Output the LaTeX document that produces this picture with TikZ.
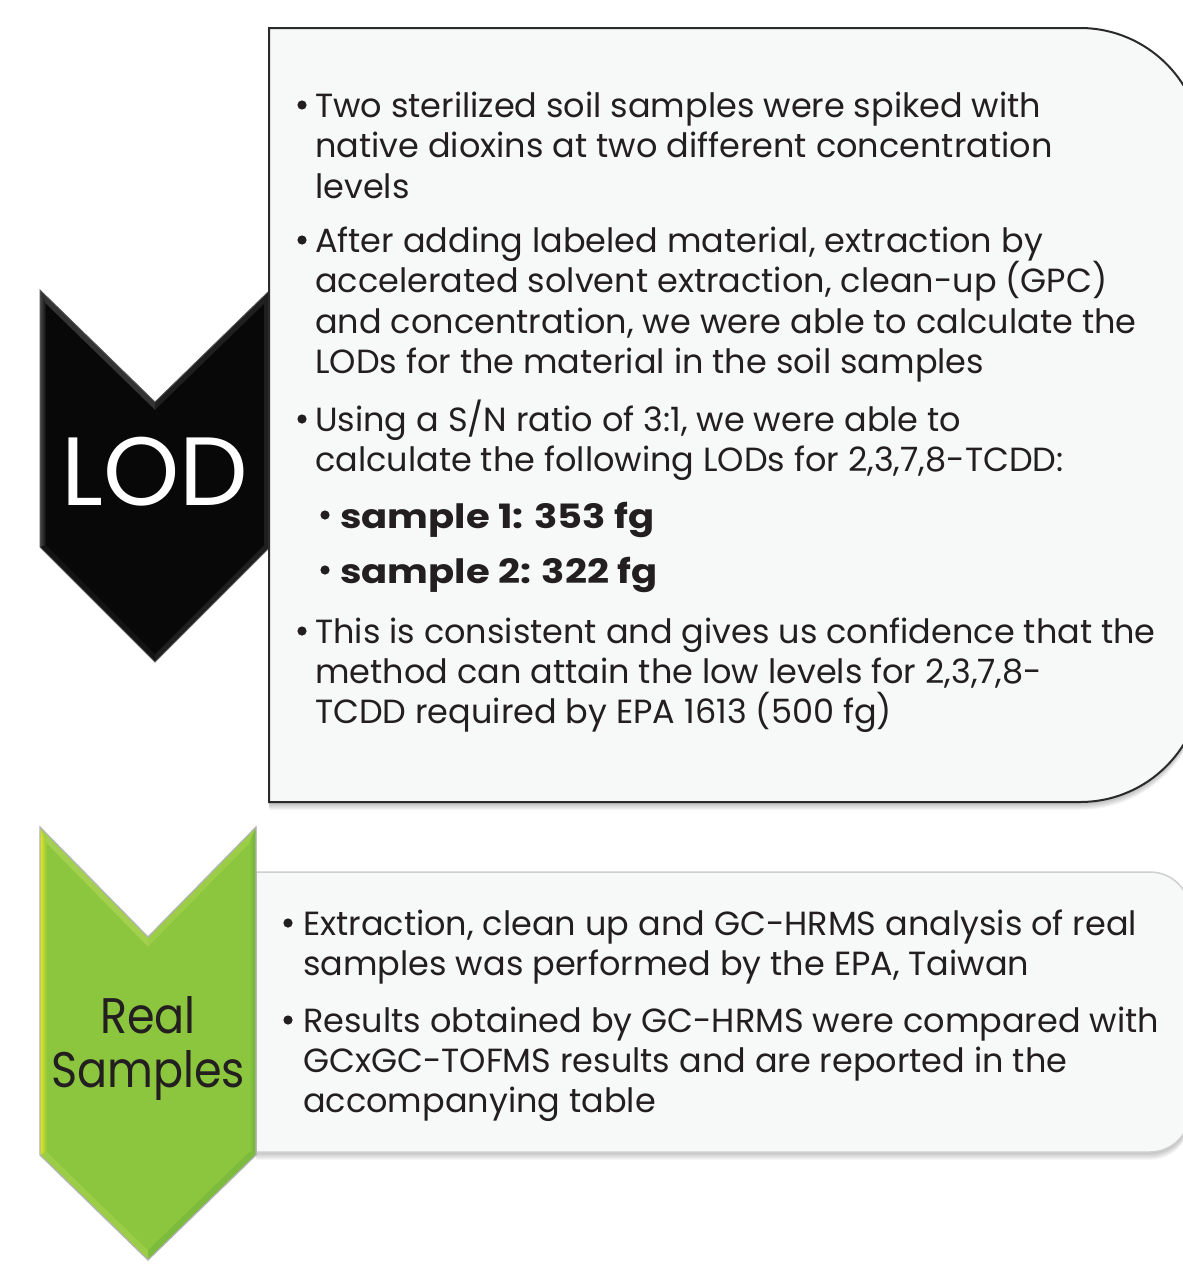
\documentclass[tikz,border=0pt]{standalone}
\usepackage{fontspec}
\setmainfont{Poppins}
\newfontfamily\heavyfont[FakeStretch=1.15]{Poppins}
\newfontfamily\narrowfont[FakeStretch=0.89]{Poppins}
\definecolor{panel}{HTML}{F7F8F8}
\definecolor{ink}{HTML}{231F20}
\definecolor{frameDark}{HTML}{2A2A2A}
\definecolor{frameLight}{HTML}{CFCFCF}
\definecolor{leaf}{HTML}{8CC63F}
\definecolor{leafLight}{HTML}{A3D04F}
\definecolor{leafLighter}{HTML}{9BCD47}
\definecolor{leafDark}{HTML}{6DB23A}
\definecolor{leafDarker}{HTML}{7CBB3C}
\definecolor{bevelYellow}{HTML}{E2E71E}
\tikzset{
  bodytext/.style={anchor=base west, inner sep=0pt, text=ink,
    font=\fontsize{33.5}{40}\selectfont},
  boldtext/.style={bodytext, font=\fontsize{33.5}{40}\selectfont\heavyfont\bfseries},
  bulletdot/.style={fill=ink},
  topframe/.style={draw=frameDark, line width=2pt, fill=panel},
  lowframe/.style={draw=frameLight, line width=1.5pt, fill=panel},
}
\begin{document}
\begin{tikzpicture}[x=1pt,y=-1pt]
\useasboundingbox (0,0) rectangle (1183,1266);
\fill[white] (0,0) rectangle (1183,1266);

% ---------- black LOD chevron ----------
\coordinate (kA) at (40,290);  \coordinate (kB) at (155,402);
\coordinate (kC) at (270,290); \coordinate (kD) at (270,547);
\coordinate (kE) at (155,662); \coordinate (kF) at (40,547);
\coordinate (ka) at (46,304);  \coordinate (kb) at (155,410);
\coordinate (kc) at (264,304); \coordinate (kd) at (264,545);
\coordinate (ke) at (155,654); \coordinate (kf) at (46,545);
\foreach \s in {1,...,5}{
  \begin{scope}[yshift=-\s pt, xshift=0.4*\s pt]
    \fill[black, opacity=0.05] (kA)--(kB)--(kC)--(kD)--(kE)--(kF)--cycle;
  \end{scope}}
\fill[black!88] (kA)--(kB)--(kC)--(kD)--(kE)--(kF)--cycle;
\shade[left color=black!72, right color=black!95] (kA)--(ka)--(kf)--(kF)--cycle;
\fill[black!80] (kA)--(kB)--(kb)--(ka)--cycle;
\fill[black!92] (kE)--(kF)--(kf)--(ke)--cycle;
\fill[black!97] (ka)--(kb)--(kc)--(kd)--(ke)--(kf)--cycle;
\draw[black!65, line width=0.8pt, line join=miter]
  (kA)--(kB)--(kC)--(kD)--(kE)--(kF)--cycle;
\node[anchor=base, inner sep=0pt, text=white,
  font=\fontsize{97}{100}\selectfont] (lod) at (155,505) {LOD};

% ---------- upper text panel ----------
\foreach \s in {1,...,8}{
  \begin{scope}[yshift=-\s pt]
    \fill[black, opacity=0.035] (269,28) -- (1080,28)
      arc[start angle=-90, end angle=0, radius=122] -- (1202,680)
      arc[start angle=0, end angle=90, radius=122] -- (269,802) -- cycle;
  \end{scope}}
\path[topframe] (269,28) -- (1080,28)
  arc[start angle=-90, end angle=0, radius=122] -- (1202,680)
  arc[start angle=0, end angle=90, radius=122] -- (269,802) -- cycle;

\foreach \y in {105,240,419,631}{ \fill[bulletdot] (302,\y) circle (4.6); }
\foreach \y in {515,570}{ \fill[bulletdot] (325,\y) circle (4.6); }

\node[bodytext] (u1) at (315,117)   {Two sterilized soil samples were spiked with};
\node[bodytext] (u2) at (315,157.5) {native dioxins at two different concentration};
\node[bodytext] (u3) at (315,198)   {levels};
\node[bodytext] (u4) at (315,252)   {After adding labeled material, extraction by};
\node[bodytext] (u5) at (315,292)   {accelerated solvent extraction, clean-up (GPC)};
\node[bodytext] (u6) at (315,333)   {and concentration, we were able to calculate the};
\node[bodytext] (u7) at (315,373)   {LODs for the material in the soil samples};
\node[bodytext] (u8) at (315,431)   {Using a S/N ratio of 3:1, we were able to};
\node[bodytext] (u9) at (315,471)   {calculate the following LODs for 2,3,7,8-TCDD:};
\node[boldtext] (s1) at (340,528)   {sample 1: 353 fg};
\node[boldtext] (s2) at (340,583)   {sample 2: 322 fg};
\node[bodytext] (u10) at (315,643)  {This is consistent and gives us confidence that the};
\node[bodytext] (u11) at (315,683)  {method can attain the low levels for 2,3,7,8-};
\node[bodytext] (u12) at (315,723)  {TCDD required by EPA 1613 (500 fg)};

% ---------- lower text panel ----------
\foreach \s in {1,...,8}{
  \begin{scope}[yshift=-\s pt]
    \fill[black, opacity=0.03] (256,872) -- (1150,872)
      arc[start angle=-90, end angle=0, radius=40] -- (1190,1112)
      arc[start angle=0, end angle=90, radius=40] -- (256,1152) -- cycle;
  \end{scope}}
\path[lowframe] (256,872) -- (1150,872)
  arc[start angle=-90, end angle=0, radius=40] -- (1190,1112)
  arc[start angle=0, end angle=90, radius=40] -- (256,1152) -- cycle;

\foreach \y in {923,1020}{ \fill[bulletdot] (288,\y) circle (4.6); }
\node[bodytext] (w1) at (303,935)  {Extraction, clean up and GC-HRMS analysis of real};
\node[bodytext] (w2) at (303,975)  {samples was performed by the EPA, Taiwan};
\node[bodytext] (w3) at (303,1032) {Results obtained by GC-HRMS were compared with};
\node[bodytext] (w4) at (303,1072) {GCxGC-TOFMS results and are reported in the};
\node[bodytext] (w5) at (303,1112) {accompanying table};

% ---------- green Real Samples chevron ----------
\coordinate (gA) at (40,827);  \coordinate (gB) at (148,937);
\coordinate (gC) at (256,827); \coordinate (gD) at (256,1155);
\coordinate (gE) at (148,1260); \coordinate (gF) at (40,1155);
\coordinate (ga) at (47,844);  \coordinate (gb) at (148,947);
\coordinate (gc) at (249,844); \coordinate (gd) at (249,1152);
\coordinate (ge) at (148,1250); \coordinate (gf) at (47,1152);
\fill[leaf] (gA)--(gB)--(gC)--(gD)--(gE)--(gF)--cycle;
\shade[left color=bevelYellow, right color=leaf] (gA)--(ga)--(gf)--(gF)--cycle;
\fill[leafLight] (gA)--(gB)--(gb)--(ga)--cycle;
\fill[leafLighter] (gB)--(gC)--(gc)--(gb)--cycle;
\shade[left color=leaf, right color=leafDark] (gC)--(gD)--(gd)--(gc)--cycle;
\fill[leafDarker] (gD)--(gE)--(ge)--(gd)--cycle;
\fill[leafLighter] (gE)--(gF)--(gf)--(ge)--cycle;
\fill[leaf] (ga)--(gb)--(gc)--(gd)--(ge)--(gf)--cycle;
\draw[black!30, line width=1.2pt, line join=miter]
  (gA)--(gB)--(gC)--(gD)--(gE)--(gF)--cycle;
\node[anchor=base, inner sep=0pt, text=ink,
  font=\fontsize{50}{54}\selectfont\narrowfont] (real1) at (148,1033) {Real};
\node[anchor=base, inner sep=0pt, text=ink,
  font=\fontsize{50}{54}\selectfont\narrowfont] (real2) at (148,1087) {Samples};
\end{tikzpicture}
\end{document}
